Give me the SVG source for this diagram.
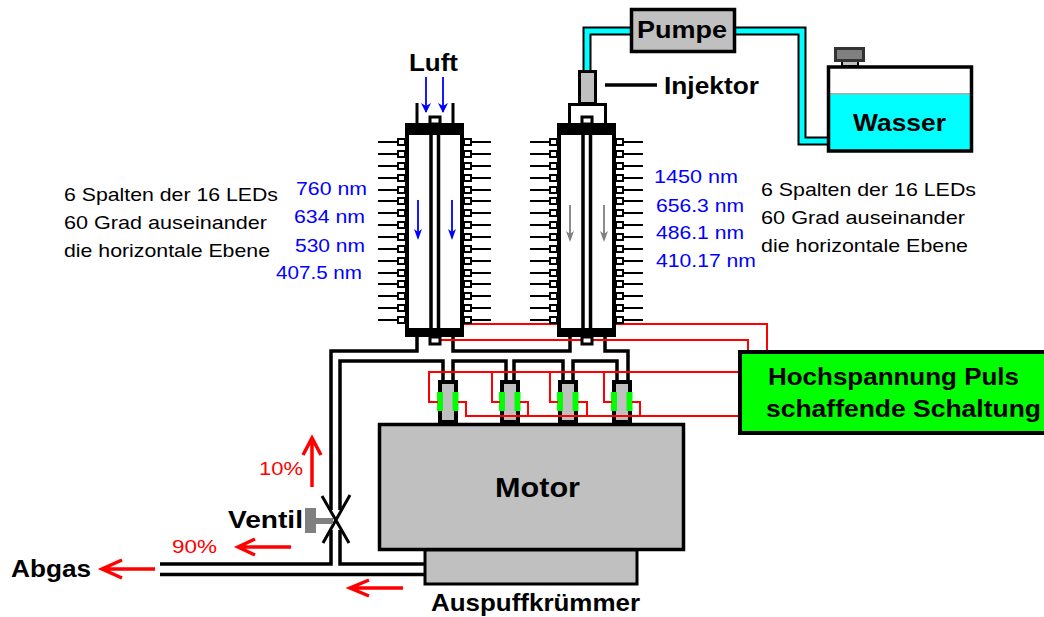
<svg xmlns="http://www.w3.org/2000/svg" xmlns:xlink="http://www.w3.org/1999/xlink" width="1044" height="617" viewBox="0 0 1044 617">
<style>
text{font-family:"Liberation Sans",Arial,sans-serif}
.lb{font-weight:bold;font-size:24px;fill:#000}
.sm{font-size:19px;fill:#000}
.bl{font-size:19px;fill:#0000ff}
.rd{font-size:19px;fill:#ff0000}
.k{fill:none;stroke:#000;stroke-width:4}
.r{fill:none;stroke:#ff0000;stroke-width:2}
.ra{fill:none;stroke:#ff0000;stroke-width:3.500}
.fin{stroke:#000;stroke-width:2}
.lbox{fill:#fff;stroke:#000;stroke-width:2}
</style>
<defs>
<g id="fins">
<path class="fin" d="M378 142H398M378 154H398M378 166H398M378 178H398M378 190H398M378 201H398M378 213H398M378 225H398M378 237H398M378 249H398M378 261H398M378 273H398M378 284H398M378 296H398M378 308H398M378 320H398M472 142H491M472 154H491M472 166H491M472 178H491M472 190H491M472 201H491M472 213H491M472 225H491M472 237H491M472 249H491M472 261H491M472 273H491M472 284H491M472 296H491M472 308H491M472 320H491"/>
<path class="lbox" d="M398 139h7v6h-7zM398 151h7v6h-7zM398 163h7v6h-7zM398 175h7v6h-7zM398 187h7v6h-7zM398 198h7v6h-7zM398 210h7v6h-7zM398 222h7v6h-7zM398 234h7v6h-7zM398 246h7v6h-7zM398 258h7v6h-7zM398 270h7v6h-7zM398 281h7v6h-7zM398 293h7v6h-7zM398 305h7v6h-7zM398 317h7v6h-7zM464 139h7v6h-7zM464 151h7v6h-7zM464 163h7v6h-7zM464 175h7v6h-7zM464 187h7v6h-7zM464 198h7v6h-7zM464 210h7v6h-7zM464 222h7v6h-7zM464 234h7v6h-7zM464 246h7v6h-7zM464 258h7v6h-7zM464 270h7v6h-7zM464 281h7v6h-7zM464 293h7v6h-7zM464 305h7v6h-7zM464 317h7v6h-7z"/>
<rect x="407" y="130" width="55" height="200" fill="#fff" stroke="#000" stroke-width="4"/>
<rect x="405" y="123" width="59" height="12" fill="#000"/>
<rect x="405" y="328" width="59" height="9" fill="#000"/>
<path class="k" d="M431 120V345M438.500 120V345" style="stroke-width:3.500"/>
<rect x="430" y="117" width="10" height="7" fill="#fff" stroke="#000" stroke-width="3"/>
<rect x="430" y="337" width="10" height="7" fill="#fff" stroke="#000" stroke-width="3"/>
</g>
<g id="cyl">
<rect x="440" y="382" width="16" height="40" fill="#c0c0c0" stroke="#000" stroke-width="4"/>
<rect x="437" y="392" width="6" height="19" fill="#00ff00"/>
<rect x="452.500" y="392" width="6" height="19" fill="#00ff00"/>
</g>
</defs>

<g id="cylinders"><use href="#cyl"/><use href="#cyl" x="62"/><use href="#cyl" x="120"/><use href="#cyl" x="174"/></g>

<g id="connectors">
<path d="M587 70V31H630M736 31H802V141H827" fill="none" stroke="#000" stroke-width="9"/>
<path d="M587 72V31H632M734 31H802V141H829" fill="none" stroke="#00ffff" stroke-width="5"/>
<path class="k" style="stroke-width:3.500" d="M417 337V351H331V510M453 337V351H570V337M605 337V351H628V381M443 381V361H340V510M453 381V361H506V381M514 381V361H563V381M573 381V361H617V381M331 530V564H160M340 530V564H425M160 574.500H425"/>
<path class="r" d="M463 324H559M615 324H767V351M438 340H748V351M738 372H429V402H438M492 372V402H500M550 372V402H558M604 372V402H612M738 416H466V402H458M528 416V402H520M587 416V402H578M640 416V402H632"/>
<path d="M605 85H657" stroke="#000" stroke-width="3.500" fill="none"/>
</g>

<g id="col1"><use href="#fins"/><path class="k" style="stroke-width:3" d="M417 103V123M453 103V123"/></g>
<g id="col2"><use href="#fins" x="152"/><rect x="569.500" y="104.500" width="36" height="20" fill="none" stroke="#000" stroke-width="3"/></g>
<g id="injektor"><rect x="579.500" y="71.500" width="16" height="32" fill="#c0c0c0" stroke="#000" stroke-width="3"/><text class="lb" x="664" y="94" textLength="95" lengthAdjust="spacingAndGlyphs">Injektor</text></g>
<g id="pumpe"><rect x="631.500" y="9.500" width="103" height="42" fill="#c0c0c0" stroke="#000" stroke-width="3.500"/><text class="lb" x="637" y="38" textLength="90" lengthAdjust="spacingAndGlyphs">Pumpe</text></g>
<g id="wasser">
<rect x="829" y="68" width="142" height="83" fill="#fff"/>
<rect x="829" y="93" width="142" height="58" fill="#00ffff"/>
<rect x="829" y="93" width="142" height="1.500" fill="#aaa"/>
<rect x="828.500" y="67" width="143" height="84" fill="none" stroke="#000" stroke-width="3.500"/>
<rect x="842" y="60" width="16" height="6" fill="#c0c0c0" stroke="#000" stroke-width="2"/>
<rect x="835.500" y="48.500" width="28" height="12" fill="#808080" stroke="#333" stroke-width="3"/>
<text class="lb" x="853" y="131" textLength="93" lengthAdjust="spacingAndGlyphs">Wasser</text>
</g>
<g id="schaltung"><rect x="740" y="352" width="306" height="81" fill="#00ff00" stroke="#000" stroke-width="4"/><text class="lb" x="768" y="385" textLength="251" lengthAdjust="spacingAndGlyphs">Hochspannung Puls</text><text class="lb" x="766" y="417" textLength="275" lengthAdjust="spacingAndGlyphs">schaffende Schaltung</text></g>
<g id="motor"><rect x="379.500" y="424.500" width="304" height="125" fill="#c0c0c0" stroke="#000" stroke-width="3.500"/><text class="lb" x="495" y="497" textLength="85" lengthAdjust="spacingAndGlyphs" style="font-size:27px">Motor</text></g>
<g id="krummer"><rect x="425" y="550" width="212" height="34" fill="#c0c0c0" stroke="#000" stroke-width="3"/><text class="lb" x="431" y="611" textLength="209" lengthAdjust="spacingAndGlyphs">Auspuffkrümmer</text></g>

<g id="ventil">
<path d="M322 496L349 543M350 495L323 543" fill="none" stroke="#000" stroke-width="3"/>
<rect x="305" y="508" width="11" height="25" fill="#808080"/><rect x="316" y="518" width="17" height="6" fill="#808080"/>
<text class="lb" x="228" y="528" textLength="75" lengthAdjust="spacingAndGlyphs">Ventil</text>
</g>

<g id="arrows">
<path class="ra" d="M312 487V438M303 455L312 438L321 455M291 547H239M255 539L238 547L255 555M403 588H351M369 580L350 588L369 596M155 569H105M122 560L102 569L122 578"/>
<path fill="none" stroke="#0000ff" stroke-width="1.800" d="M426 77V112M443 77V112M418 200V238M452 200V238"/>
<path fill="#0000ff" d="M421 103L426 113L431 103L426 106ZM438 103L443 113L448 103L443 106ZM414 229L418 240L422 229L418 232ZM448 229L452 240L456 229L452 232Z"/>
<path fill="none" stroke="#808080" stroke-width="1.800" d="M570 205V240M604 205V240"/>
<path fill="#808080" d="M566 231L570 242L574 231L570 234ZM600 231L604 242L608 231L604 234Z"/>
</g>

<g id="labels">
<text class="lb" x="409" y="71" textLength="49" lengthAdjust="spacingAndGlyphs">Luft</text>
<text class="lb" x="11" y="577" textLength="80" lengthAdjust="spacingAndGlyphs">Abgas</text>
<text class="rd" x="259" y="475" textLength="44" lengthAdjust="spacingAndGlyphs">10%</text>
<text class="rd" x="172" y="553" textLength="45" lengthAdjust="spacingAndGlyphs">90%</text>
<text class="sm" x="64" y="201" textLength="214" lengthAdjust="spacingAndGlyphs">6 Spalten der 16 LEDs</text>
<text class="sm" x="64" y="229" textLength="203" lengthAdjust="spacingAndGlyphs">60 Grad auseinander</text>
<text class="sm" x="64" y="257" textLength="206" lengthAdjust="spacingAndGlyphs">die horizontale Ebene</text>
<text class="sm" x="761" y="196" textLength="215" lengthAdjust="spacingAndGlyphs">6 Spalten der 16 LEDs</text>
<text class="sm" x="761" y="224" textLength="204" lengthAdjust="spacingAndGlyphs">60 Grad auseinander</text>
<text class="sm" x="761" y="252" textLength="207" lengthAdjust="spacingAndGlyphs">die horizontale Ebene</text>
<text class="bl" x="296" y="195" textLength="71" lengthAdjust="spacingAndGlyphs">760 nm</text>
<text class="bl" x="294" y="223" textLength="71" lengthAdjust="spacingAndGlyphs">634 nm</text>
<text class="bl" x="295" y="252" textLength="70" lengthAdjust="spacingAndGlyphs">530 nm</text>
<text class="bl" x="276" y="279" textLength="86" lengthAdjust="spacingAndGlyphs">407.5 nm</text>
<text class="bl" x="654" y="183" textLength="84" lengthAdjust="spacingAndGlyphs">1450 nm</text>
<text class="bl" x="656" y="212" textLength="88" lengthAdjust="spacingAndGlyphs">656.3 nm</text>
<text class="bl" x="656" y="239" textLength="88" lengthAdjust="spacingAndGlyphs">486.1 nm</text>
<text class="bl" x="656" y="267" textLength="100" lengthAdjust="spacingAndGlyphs">410.17 nm</text>
</g>
</svg>
